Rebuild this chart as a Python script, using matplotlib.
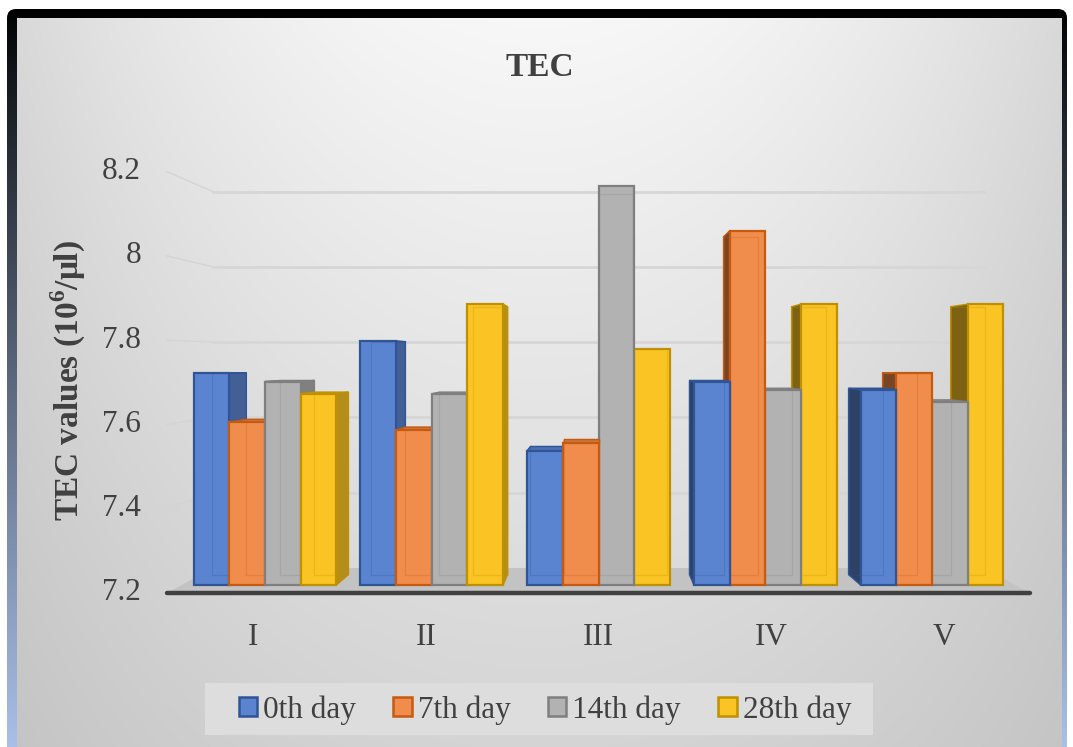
import numpy as np
import matplotlib
matplotlib.use("Agg")
import matplotlib.pyplot as plt
from matplotlib.patches import Polygon, FancyBboxPatch, Rectangle
from matplotlib.transforms import offset_copy

# ---- data -------------------------------------------------------------
categories = ["I", "II", "III", "IV", "V"]
series_names = ["0th day", "7th day", "14th day", "28th day"]
day0 = [7.72, 7.80, 7.53, 7.70, 7.68]
day7 = [7.60, 7.58, 7.55, 8.07, 7.72]
day14 = [7.70, 7.67, 8.18, 7.68, 7.65]
day28 = [7.67, 7.89, 7.78, 7.89, 7.89]
y_ticks = [7.2, 7.4, 7.6, 7.8, 8.0, 8.2]
y_tick_labels = ["7.2", "7.4", "7.6", "7.8", "8", "8.2"]

series_values = [day0, day7, day14, day28]
face_colors = ["#5b84d0", "#f08c4c", "#b2b2b2", "#fbc425"]
edge_colors = ["#2f5597", "#c55a11", "#7f7f7f", "#bf9000"]
text_color = "#404040"

plt.rcParams["font.family"] = ["Liberation Serif", "DejaVu Serif"]
plt.rcParams["mathtext.fontset"] = "custom"
plt.rcParams["mathtext.rm"] = "Liberation Serif"
plt.rcParams["mathtext.bf"] = "Liberation Serif:bold"

W, H = 1073, 747
fig = plt.figure(figsize=(W / 100, H / 100), dpi=100)
fig.patch.set_facecolor("white")

# ---- background: dark rounded frame and shaded panel ------------------
bg = fig.add_axes([0, 0, 1, 1], zorder=-5)
bg.set_xlim(0, W)
bg.set_ylim(H, 0)
bg.axis("off")

t = np.linspace(0, 1, 256)[:, None] ** 0.9
top_c = np.array([0.0, 0.0, 0.0])
bot_c = np.array([0.68, 0.77, 0.93])
frame_img = (top_c + (bot_c - top_c) * t[:, :, None]) * np.ones((256, 2, 3))
frame_patch = FancyBboxPatch((7, 9), 1060, 760, boxstyle="round,pad=0,rounding_size=9",
                             transform=bg.transData, facecolor="none", edgecolor="none")
bg.add_patch(frame_patch)
im = bg.imshow(frame_img, extent=(7, 1067, 769, 9), aspect="auto", interpolation="bilinear")
im.set_clip_path(frame_patch)

ny, nx = 200, 300
yy, xx = np.mgrid[0:1:ny * 1j, 0:1:nx * 1j]
dx = (xx - 0.5) / 0.5
shade = 0.97 - 0.12 * dx ** 2 * (1 - 0.5 * yy) - 0.14 * yy
panel = np.dstack([shade, shade, shade])
bg.imshow(panel, extent=(17, 1062, 760, 18), aspect="auto", interpolation="bilinear")

# legend backing box
bg.add_patch(Rectangle((205, 683), 668, 52, facecolor="#dddddd", edgecolor="none", zorder=3))
bg.set_xlim(0, W)
bg.set_ylim(H, 0)

# ---- chart axes (front plane of the columns) --------------------------
ax = fig.add_axes([181.65 / W, (H - 585) / H, 833.7 / W, 447.7 / H])
ax.set_xlim(-0.5, 4.5)
ax.set_ylim(7.2, 8.3)
ax.axis("off")

BASE = 7.2
XV, VV = 2.0, 7.755          # vanishing point of the 3-D view
S_FLOOR, S_WALL, S_BACK = 1.035, 0.925, 0.954


def proj(x, v, s):
    return (XV + s * (x - XV), VV + s * (v - VV))


def shade_color(c, f):
    rgb = np.array(matplotlib.colors.to_rgb(c))
    return tuple(rgb * f)


# back wall gridlines
for v in y_ticks[1:]:
    p0 = proj(-0.5, v, S_FLOOR)
    p1 = proj(-0.5, v, S_WALL)
    p2 = proj(4.5, v, S_WALL)
    ax.plot([p0[0], p1[0]], [p0[1], p1[1]], color="#d4d4d4", lw=1.0, clip_on=False, zorder=1)
    ax.plot([p1[0], p2[0]], [p1[1], p2[1]], color="#d6d6d6", lw=2.0, clip_on=False, zorder=1)

# floor
floor = [proj(-0.5, BASE, S_FLOOR), proj(4.5, BASE, S_FLOOR),
         proj(4.5, BASE, S_WALL), proj(-0.5, BASE, S_WALL)]
ax.add_patch(Polygon(floor, closed=True, facecolor="#c3c3c3", edgecolor="none",
                     clip_on=False, zorder=2))
fl, fr = proj(-0.5, BASE, S_FLOOR), proj(4.5, BASE, S_FLOOR)
ax.plot([fl[0], fr[0]], [fl[1], fr[1]], color="#404040", lw=3.2, clip_on=False,
        zorder=3, solid_capstyle="round")

# columns
bw = 0.214
bars = []
for si, vals in enumerate(series_values):
    off = (si - 1.5) * bw
    for gi, v in enumerate(vals):
        x0 = gi + off - bw / 2
        bars.append((x0, x0 + bw, v, si))
bars.sort(key=lambda b: -abs((b[0] + b[1]) / 2 - XV))

z = 10
for x0, x1, v, si in bars:
    fc, ec = face_colors[si], edge_colors[si]
    # side face
    if x1 <= XV + 1e-9:
        xs, f = x1, 0.72
    elif x0 >= XV - 1e-9:
        xs, f = x0, 0.5
    else:
        xs = None
    if xs is not None and abs(xs - XV) > 1e-6:
        side = [proj(xs, BASE, 1), proj(xs, BASE, S_BACK), proj(xs, v, S_BACK), proj(xs, v, 1)]
        ax.add_patch(Polygon(side, closed=True, facecolor=shade_color(fc, f),
                             edgecolor=ec, lw=1.0, clip_on=False, zorder=z))
    # top face
    if v < VV:
        top = [proj(x0, v, 1), proj(x1, v, 1), proj(x1, v, S_BACK), proj(x0, v, S_BACK)]
        ax.add_patch(Polygon(top, closed=True, facecolor=shade_color(fc, 0.85),
                             edgecolor=ec, lw=1.0, clip_on=False, zorder=z))
    # front face
    ax.add_patch(Rectangle((x0, BASE), x1 - x0, v - BASE, facecolor=fc, edgecolor=ec,
                           lw=1.6, clip_on=False, zorder=z + 1))
    # hidden back edges seen through the translucent column
    back = [proj(x0, BASE, S_BACK), proj(x1, BASE, S_BACK), proj(x1, v, S_BACK),
            proj(x0, v, S_BACK), proj(x0, BASE, S_BACK)]
    bx, by = zip(*back)
    ax.plot(bx, by, color=ec, lw=0.9, alpha=0.25, clip_on=False, zorder=z + 2)
    z += 3

# value axis labels
for v, lab in zip(y_ticks, y_tick_labels):
    px, py = proj(-0.5, v, S_FLOOR)
    ax.text(px, py, lab, transform=offset_copy(ax.transData, fig=fig, x=-26, y=0, units="dots"),
            ha="right", va="center", fontsize=22.5, color=text_color, clip_on=False)

# category labels
for gi, cat in enumerate(categories):
    px, py = proj(gi, BASE, S_FLOOR)
    ax.text(px, py, cat, transform=offset_copy(ax.transData, fig=fig, x=0, y=-45, units="dots"),
            ha="center", va="center", fontsize=22.5, color=text_color, clip_on=False)

# titles
fig.text(540 / W, 1 - 68 / H, "TEC", ha="center", va="center", fontsize=24,
         fontweight="bold", color=text_color)
fig.text(68 / W, 1 - 381 / H, r"TEC values (10$^{\mathbf{6}}$/μl)", ha="center", va="center",
         rotation=90, fontsize=24, fontweight="bold", color=text_color)

# legend
handles = [Rectangle((0, 0), 1, 1, facecolor=face_colors[i], edgecolor=edge_colors[i], lw=1.8)
           for i in range(4)]
leg = fig.legend(handles, series_names, loc="center", bbox_to_anchor=(545 / W, 1 - 710 / H),
                 ncol=4, frameon=False, fontsize=22.5, handlelength=0.58, handleheight=0.58,
                 handletextpad=0.2, columnspacing=1.2)
for txt in leg.get_texts():
    txt.set_color(text_color)

fig.savefig("out.png", dpi=100)
